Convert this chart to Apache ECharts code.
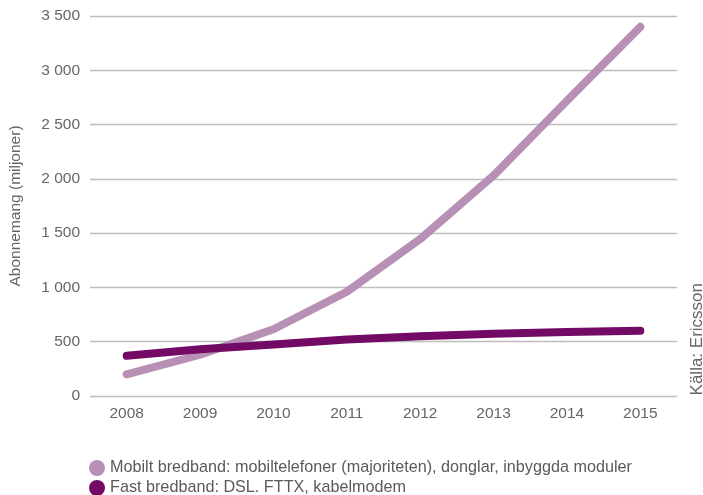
<!DOCTYPE html>
<html><head><meta charset="utf-8">
<script src="https://cdn.jsdelivr.net/npm/echarts@6/dist/echarts.min.js"></script>
<style>html,body{margin:0;padding:0;background:#fff}#c{width:703px;height:495px}</style>
</head><body><div id="c"></div>
<script>
const years = ['2008','2009','2010','2011','2012','2013','2014','2015'];
const mobile = [200, 380, 615, 960, 1445, 2030, 2720, 3400];
const fixed = [370, 430, 475, 520, 550, 574, 590, 600];
const seriesNames = ['Mobilt bredband: mobiltelefoner (majoriteten), donglar, inbyggda moduler', 'Fast bredband: DSL. FTTX, kabelmodem'];
const yName = 'Abonnemang (miljoner)';
const source = 'Källa: Ericsson';
const font = 'Liberation Sans, Arial, Helvetica, sans-serif';
const legendBase = {
  orient: 'horizontal', left: 84, itemWidth: 16, itemHeight: 16, icon: 'circle',
  textStyle: {fontSize: 16.2, color: '#5a5a5a', fontFamily: font}
};
const chart = echarts.init(document.getElementById('c'));
chart.setOption({
  animation: false,
  textStyle: {fontFamily: font},
  grid: {left: 90, right: 26, top: 16, bottom: 99, containLabel: false, outerBoundsMode: 'none'},
  legend: [
    Object.assign({}, legendBase, {top: 455, data: [seriesNames[0]]}),
    Object.assign({}, legendBase, {top: 475, data: [seriesNames[1]]})
  ],
  xAxis: {
    type: 'category', data: years, boundaryGap: true,
    axisLine: {show: false}, axisTick: {show: false},
    axisLabel: {fontSize: 15.5, color: '#666', margin: 10}
  },
  yAxis: {
    type: 'value', min: 0, max: 3500, interval: 500,
    name: yName, nameLocation: 'middle', nameGap: 66,
    nameTextStyle: {fontSize: 15.5, color: '#666'},
    axisLine: {show: false}, axisTick: {show: false},
    axisLabel: {fontSize: 15.5, color: '#666', margin: 10,
      formatter: v => String(v).replace(/\B(?=(\d{3})+(?!\d))/g, ' ')},
    splitLine: {lineStyle: {color: '#bdbdbd', width: 1.3}}
  },
  graphic: [{
    type: 'text', left: 689, top: 283, rotation: Math.PI / 2,
    style: {text: source, fontSize: 17, fill: '#666', fontFamily: font}
  }],
  series: [
    {name: seriesNames[0], type: 'line', data: mobile, showSymbol: false, symbol: 'circle',
     itemStyle: {color: '#b890b6'}, lineStyle: {color: '#b890b6', width: 8, cap: 'round', join: 'round'}},
    {name: seriesNames[1], type: 'line', data: fixed, showSymbol: false, symbol: 'circle',
     itemStyle: {color: '#730a66'}, lineStyle: {color: '#730a66', width: 8, cap: 'round', join: 'round'}}
  ]
});
</script></body></html>
